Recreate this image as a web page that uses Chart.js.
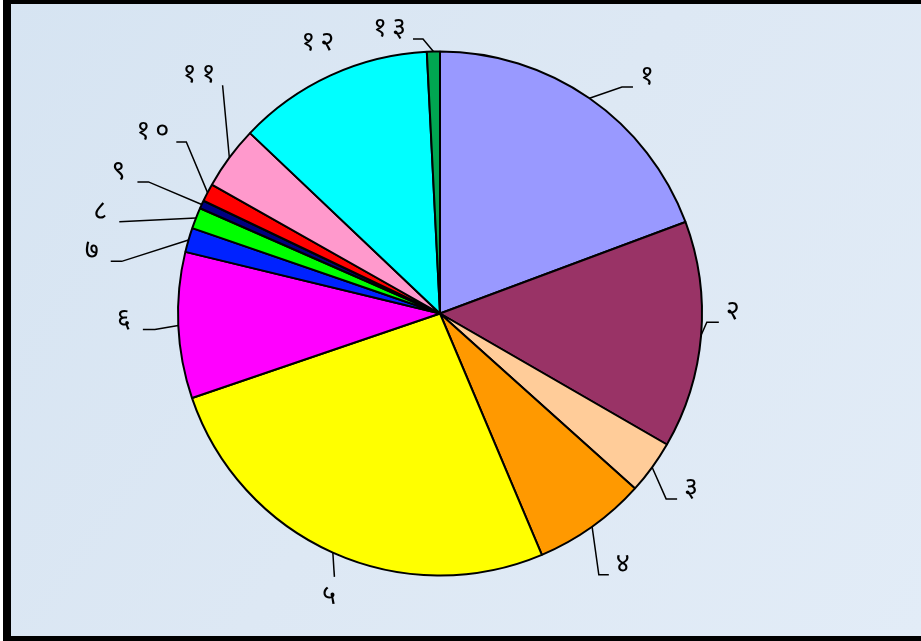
<!DOCTYPE html>
<html>
<head>
<meta charset="utf-8">
<script src="https://cdn.jsdelivr.net/npm/chart.js@4/dist/chart.umd.min.js"></script>
<style>
  html, body { margin: 0; padding: 0; background: #dbe7f4; }
  #wrap { position: relative; width: 921px; height: 641px; }
  canvas { display: block; }
</style>
</head>
<body>
<div id="wrap"><canvas id="pie" width="921" height="641"></canvas></div>
<script>
// Slice names (Devanagari numerals 1..13)
const categories = ['१', '२', '३', '४', '५', '६', '७', '८', '९', '१०', '११', '१२', '१३'];
// Share of each slice, percent
const shares = [19.3, 14.0, 3.3, 7.0, 26.1, 9.0, 1.5, 1.3, 0.5, 1.1, 3.9, 12.1, 0.8];
// Slice fill colours
const sliceColors = ['#9999ff', '#993366', '#ffcc99', '#ff9900', '#ffff00', '#ff00ff', '#0022ff',
                     '#00ff00', '#000080', '#ff0000', '#ff99cc', '#00ffff', '#00a651'];

// Leader-line layout per slice: elbow [angle shift from slice middle (deg), radius factor],
// horizontal tail length (+ right, - left), and where the label sits.
const leaderLayout = [
  { shift:  4.0, rf: 1.109, tail:  11, side: 'right' },
  { shift: -2.9, rf: 1.019, tail:  12, side: 'right' },
  { shift:  3.4, rf: 1.116, tail:  11, side: 'right' },
  { shift:  4.2, rf: 1.167, tail:  10, side: 'right' },
  { shift: -2.3, rf: 1.083, tail:   0, side: 'below' },
  { shift: -0.6, rf: 1.090, tail: -12, side: 'left' },
  { shift: -7.0, rf: 1.231, tail: -11, side: 'left' },
  { shift: -5.4, rf: 1.273, tail:   0, side: 'left' },
  { shift: -0.3, rf: 1.221, tail: -11, side: 'left' },
  { shift:  6.6, rf: 1.169, tail: -10, side: 'left' },
  { shift:  9.9, rf: 1.203, tail:   0, side: 'left' },
  { shift:  0.2, rf: 1.126, tail:   0, side: 'none' },
  { shift: -2.1, rf: 1.050, tail: -10, side: 'left' }
];

const labelFont = '27px "Noto Sans Devanagari", "Lohit Devanagari", "Mangal", "FreeSans", "Noto Sans", sans-serif';

// Paper-like backdrop and the black frame
const backdrop = {
  id: 'backdrop',
  beforeDraw(chart) {
    const ctx = chart.ctx;
    const w = chart.width, h = chart.height;
    ctx.save();
    const g = ctx.createLinearGradient(0, 0, w, h);
    g.addColorStop(0, '#d6e4f2');
    g.addColorStop(0.5, '#dde8f4');
    g.addColorStop(1, '#e2ecf7');
    ctx.fillStyle = g;
    ctx.fillRect(0, 0, w, h);
    ctx.fillStyle = '#ffffff';
    ctx.fillRect(0, 0, 3, h);
    ctx.fillStyle = '#000000';
    ctx.fillRect(3, 0, 8, h);
    ctx.fillRect(3, 0, w, 4);
    ctx.fillRect(3, h - 5, w, 5);
    ctx.restore();
  }
};

// Leader lines and labels drawn from the arc geometry
const leaders = {
  id: 'leaders',
  afterDatasetsDraw(chart) {
    const ctx = chart.ctx;
    const arcs = chart.getDatasetMeta(0).data;
    ctx.save();
    ctx.strokeStyle = '#000';
    ctx.lineWidth = 1.5;
    ctx.fillStyle = '#000';
    ctx.font = labelFont;
    if ('letterSpacing' in ctx) ctx.letterSpacing = '5px';
    const put = (txt, x, y, align) => {
      // trailing letter spacing is trimmed so alignment matches the glyphs
      const trail = txt.length > 1 ? 5 : 0;
      ctx.textAlign = align;
      ctx.textBaseline = 'middle';
      let ax = x;
      if (align === 'right') ax = x + (txt.length > 1 ? trail : 0);
      if (align === 'center') ax = x + trail / 2;
      ctx.fillText(txt, ax, y);
    };
    arcs.forEach((arc, i) => {
      const L = leaderLayout[i];
      const cx = arc.x, cy = arc.y, R = arc.outerRadius;
      const mid = (arc.startAngle + arc.endAngle) / 2;
      const ea = mid + L.shift * Math.PI / 180;
      const ex = cx + R * L.rf * Math.cos(ea);
      const ey = cy + R * L.rf * Math.sin(ea);
      const txt = categories[i];
      if (L.side === 'none') {
        put(txt, ex, ey, 'center');
        return;
      }
      const sx = cx + R * Math.cos(mid);
      const sy = cy + R * Math.sin(mid);
      const tx = ex + L.tail;
      ctx.beginPath();
      ctx.moveTo(sx, sy);
      ctx.lineTo(ex, ey);
      if (L.tail !== 0) ctx.lineTo(tx, ey);
      ctx.stroke();
      if (L.side === 'right') {
        put(txt, tx + 7, ey - 8, 'left');
      } else if (L.side === 'left') {
        put(txt, tx - 7, ey - 8, 'right');
      } else {
        put(txt, tx - 3, ey + 22, 'center');
      }
    });
    ctx.restore();
  }
};

new Chart(document.getElementById('pie'), {
  type: 'pie',
  data: {
    labels: categories,
    datasets: [{
      data: shares,
      backgroundColor: sliceColors,
      borderColor: '#000000',
      borderWidth: 2
    }]
  },
  options: {
    responsive: false,
    animation: false,
    layout: { padding: { left: 177, right: 218, top: 50.5, bottom: 64.5 } },
    plugins: {
      legend: { display: false },
      tooltip: { enabled: false }
    }
  },
  plugins: [backdrop, leaders]
});
</script>
</body>
</html>
